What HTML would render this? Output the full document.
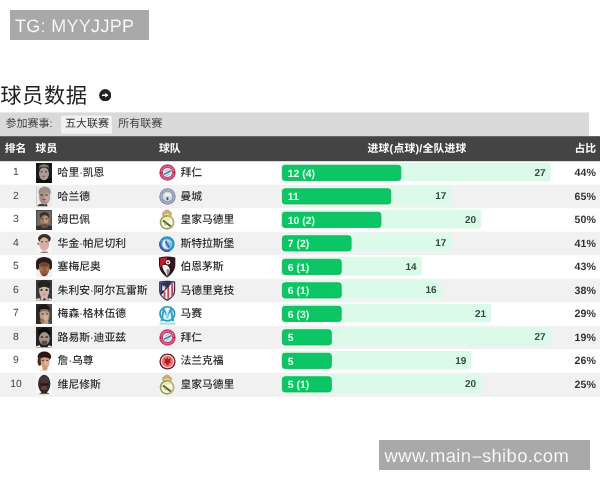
<!DOCTYPE html>
<html lang="zh-CN"><head><meta charset="utf-8"><title>球员数据</title><style>
*{margin:0;padding:0;box-sizing:border-box}
html,body{width:600px;height:480px;overflow:hidden;background:#fff}
body{position:relative;text-rendering:geometricPrecision;font-family:"Liberation Sans","Noto Sans CJK SC",sans-serif;color:#333}
.abs{position:absolute;white-space:nowrap}
.wm{position:absolute;background:#a9a9a9;color:#fff}
.wm span{position:absolute;white-space:nowrap;line-height:1}
.title{left:0.3px;top:81.2px;font-size:21.3px;line-height:30px;color:#1e1e1e;font-weight:400;letter-spacing:0.5px}
.ft{font-size:11px;line-height:14px;color:#444;top:117.4px}
.th{font-size:10.8px;font-weight:700;color:#fff;line-height:14px;top:142.2px}
.rk{left:0.3px;width:31.4px;text-align:center;font-size:10.4px;line-height:14px;color:#444}
.nm{font-size:10.8px;line-height:14px;color:#2b2b2b;font-weight:500}
.av{position:absolute;display:block}
.lg{position:absolute;display:block;overflow:visible}
.gv{font-size:10.4px;font-weight:700;color:#e4fff0;line-height:12px}
.tv{font-size:10px;font-weight:700;color:#2f4a3d;line-height:12px;text-align:right}
.pc{font-size:10.6px;font-weight:700;color:#333;line-height:12px;text-align:right;left:560px;width:35.8px}
</style></head><body>
<div class="wm" style="left:10px;top:10px;width:139px;height:29.5px"><span style="left:5px;top:7.4px;font-size:18px;letter-spacing:0.3px;-webkit-text-stroke:0.15px #a9a9a9">TG: MYYJJPP</span></div>
<div id="tbl" style="position:absolute;left:0;top:60px;width:600px;height:360px;filter:blur(0.4px)"><div style="position:absolute;left:0;top:-60px;width:600px;height:480px">
<div class="abs title">球员数据</div>
<svg class="abs" style="left:98.8px;top:89.1px" width="12.4" height="12.4" viewBox="0 0 12.4 12.4"><circle cx="6.2" cy="6.2" r="6.1" fill="#222"/><path d="M3.1 5.5 H6.3 V3.8 L9.5 6.2 L6.3 8.6 V6.9 H3.1Z" fill="#fff"/></svg>
<svg class="abs" style="left:0;top:0" width="600" height="480" viewBox="0 0 600 480"><rect x="0" y="112.4" width="589" height="23.8" fill="#d9d9d9"/><rect x="61" y="115.5" width="51" height="18.2" rx="2" fill="#f1f1f1"/><rect x="0" y="136.2" width="600" height="25" fill="#444"/><rect x="281.0" y="162.70" width="269.9" height="18.7" rx="2" fill="#dcfaea"/><rect x="282.4" y="165.30" width="118.4" height="15.1" rx="2.6" fill="#0cc564" stroke="#13b25e" stroke-width="0.9"/><rect x="0" y="184.70" width="600" height="23.50" fill="#f1f1f1"/><rect x="281.0" y="186.20" width="170.6" height="18.7" rx="2" fill="#dcfaea"/><rect x="282.4" y="188.80" width="108.4" height="15.1" rx="2.6" fill="#0cc564" stroke="#13b25e" stroke-width="0.9"/><rect x="281.0" y="209.70" width="200.4" height="18.7" rx="2" fill="#dcfaea"/><rect x="282.4" y="212.30" width="98.5" height="15.1" rx="2.6" fill="#0cc564" stroke="#13b25e" stroke-width="0.9"/><rect x="0" y="231.70" width="600" height="23.50" fill="#f1f1f1"/><rect x="281.0" y="233.20" width="170.6" height="18.7" rx="2" fill="#dcfaea"/><rect x="282.4" y="235.80" width="68.7" height="15.1" rx="2.6" fill="#0cc564" stroke="#13b25e" stroke-width="0.9"/><rect x="281.0" y="256.70" width="140.8" height="18.7" rx="2" fill="#dcfaea"/><rect x="282.4" y="259.30" width="58.8" height="15.1" rx="2.6" fill="#0cc564" stroke="#13b25e" stroke-width="0.9"/><rect x="0" y="278.70" width="600" height="23.50" fill="#f1f1f1"/><rect x="281.0" y="280.20" width="160.7" height="18.7" rx="2" fill="#dcfaea"/><rect x="282.4" y="282.80" width="58.8" height="15.1" rx="2.6" fill="#0cc564" stroke="#13b25e" stroke-width="0.9"/><rect x="281.0" y="303.70" width="210.3" height="18.7" rx="2" fill="#dcfaea"/><rect x="282.4" y="306.30" width="58.8" height="15.1" rx="2.6" fill="#0cc564" stroke="#13b25e" stroke-width="0.9"/><rect x="0" y="325.70" width="600" height="23.50" fill="#f1f1f1"/><rect x="281.0" y="327.20" width="269.9" height="18.7" rx="2" fill="#dcfaea"/><rect x="282.4" y="329.80" width="48.9" height="15.1" rx="2.6" fill="#0cc564" stroke="#13b25e" stroke-width="0.9"/><rect x="281.0" y="350.70" width="190.5" height="18.7" rx="2" fill="#dcfaea"/><rect x="282.4" y="353.30" width="48.9" height="15.1" rx="2.6" fill="#0cc564" stroke="#13b25e" stroke-width="0.9"/><rect x="0" y="372.70" width="600" height="24.30" fill="#f1f1f1"/><rect x="281.0" y="374.20" width="200.4" height="18.7" rx="2" fill="#dcfaea"/><rect x="282.4" y="376.80" width="48.9" height="15.1" rx="2.6" fill="#0cc564" stroke="#13b25e" stroke-width="0.9"/></svg>
<div class="abs ft" style="left:5.6px">参加赛事:</div>
<div class="abs ft" style="left:65px;color:#333">五大联赛</div>
<div class="abs ft" style="left:118.3px">所有联赛</div>
<div class="abs th" style="left:4.8px">排名</div>
<div class="abs th" style="left:35.6px">球员</div>
<div class="abs th" style="left:159px">球队</div>
<div class="abs th" style="left:282px;width:270px;text-align:center;letter-spacing:0.2px">进球(点球)/全队进球</div>
<div class="abs th" style="left:560px;width:36px;text-align:right">占比</div>
<div class="abs rk" style="top:166.00px">1</div>
<div class="abs" style="left:36px;top:162.80px;width:16px;height:20.4px"><svg class="av" width="16" height="20.4" viewBox="0 0 16 20" preserveAspectRatio="none"><defs><filter id="b1" x="-30%" y="-30%" width="160%" height="160%"><feGaussianBlur stdDeviation="0.55"/></filter><clipPath id="c1"><rect width="16" height="20"/></clipPath></defs><rect width="16" height="20" fill="#1b1a19"/><g clip-path="url(#c1)"><g filter="url(#b1)"><path d="M0 20 L2 17 Q8 15 14 17 L16 20Z" fill="#0e0d0c"/><ellipse cx="8" cy="4.4" rx="5.0" ry="3.2" fill="#85817a"/><ellipse cx="8" cy="5.6" rx="5.4" ry="2.2" fill="#3b342e"/><ellipse cx="8" cy="10.6" rx="5.0" ry="6.2" fill="#a99b99"/><ellipse cx="5.7" cy="8.6" rx="1.1" ry="0.7" fill="#4b3f40"/><ellipse cx="10" cy="8.6" rx="1.1" ry="0.7" fill="#4b3f40"/><ellipse cx="7.6" cy="13.2" rx="1.6" ry="0.8" fill="#7a6a68"/><path d="M3 17.4 Q8 20.4 13 17.4 L14 20 H2Z" fill="#1a1716"/></g></g></svg></div>
<div class="abs nm" style="left:57.6px;top:166.00px">哈里·凯恩</div>
<div class="abs" style="left:158.9px;top:164.30px"><svg class="lg" width="17" height="17" viewBox="0 0 17 17"><circle cx="8.5" cy="8.5" r="8.2" fill="#c63f66"/><circle cx="8.5" cy="8.5" r="6.2" fill="none" stroke="#dd8ea8" stroke-width="1.3" stroke-dasharray="1.1 1"/><circle cx="1.9" cy="8.6" r="0.9" fill="#9c2350"/><circle cx="15.1" cy="8.6" r="0.9" fill="#9c2350"/><circle cx="8.5" cy="8.5" r="4.6" fill="#f4e9ee"/><path d="M4.4 9.7 L11.7 6.1 L12.6 7.5 L5.3 11.1Z" fill="#3787a8"/><path d="M5.4 6.9 L9.8 4.8 L10.3 5.6 L5.9 7.8Z" fill="#8fbdd2"/><path d="M6.7 11.5 L11.3 9.3 L11.7 10.1 L7.1 12.3Z" fill="#8fbdd2"/></svg></div>
<div class="abs nm" style="left:180.4px;top:166.00px">拜仁</div>
<div class="abs gv" style="left:287.8px;top:168.80px">12 (4)</div>
<div class="abs tv" style="left:505.7px;width:40px;top:167.90px">27</div>
<div class="abs pc" style="top:167.10px">44%</div>
<div class="abs rk" style="top:189.50px">2</div>
<div class="abs" style="left:36px;top:186.30px;width:16px;height:20.4px"><svg class="av" width="16" height="20.4" viewBox="0 0 16 20" preserveAspectRatio="none"><defs><filter id="b2" x="-30%" y="-30%" width="160%" height="160%"><feGaussianBlur stdDeviation="0.55"/></filter><clipPath id="c2"><rect width="16" height="20"/></clipPath></defs><rect width="16" height="20" fill="#e9e9e9"/><g clip-path="url(#c2)"><g filter="url(#b2)"><rect x="0" y="0" width="0.8" height="20" fill="#c9c9c9"/><ellipse cx="8.6" cy="6" rx="6.2" ry="5.4" fill="#98918a"/><ellipse cx="8.6" cy="10.8" rx="5.5" ry="7.2" fill="#aa8e86"/><ellipse cx="10.8" cy="11" rx="2.6" ry="4.4" fill="#cdb3aa" opacity="0.7"/><ellipse cx="5.6" cy="8.8" rx="1.6" ry="0.8" fill="#5c4444"/><ellipse cx="10.4" cy="8.8" rx="1.6" ry="0.8" fill="#5c4444"/><ellipse cx="8" cy="13.2" rx="2" ry="0.8" fill="#7c5a54"/><path d="M1.4 20 Q2 17.2 6 17.4 Q9.6 18.6 11 17.6 L11.6 20Z" fill="#3d3d3f"/></g></g></svg></div>
<div class="abs nm" style="left:57.6px;top:189.50px">哈兰德</div>
<div class="abs" style="left:158.9px;top:188.10px"><svg class="lg" width="17" height="17" viewBox="0 0 17 17"><circle cx="8.5" cy="8.5" r="8.2" fill="#7f86a2"/><circle cx="8.5" cy="8.5" r="7.2" fill="#b4b9cd"/><circle cx="8.5" cy="8.5" r="6" fill="#858ba7"/><circle cx="8.5" cy="8.5" r="4.9" fill="#d6dae6"/><path d="M5.6 5.4 H11.4 V9.4 Q11.4 11.8 8.5 12.9 Q5.6 11.8 5.6 9.4Z" fill="#d3e2d6"/><path d="M5.6 5.4 H11.4 V7.8 H5.6Z" fill="#eef3ef"/><path d="M7.5 9.2 h1.9 v2.7 q-0.95 0.8 -1.9 0z" fill="#43544a"/></svg></div>
<div class="abs nm" style="left:180.4px;top:189.50px">曼城</div>
<div class="abs gv" style="left:287.8px;top:192.30px">11</div>
<div class="abs tv" style="left:406.4px;width:40px;top:191.40px">17</div>
<div class="abs pc" style="top:190.60px">65%</div>
<div class="abs rk" style="top:213.00px">3</div>
<div class="abs" style="left:36px;top:209.80px;width:16px;height:20.4px"><svg class="av" width="16" height="20.4" viewBox="0 0 16 20" preserveAspectRatio="none"><defs><filter id="b3" x="-30%" y="-30%" width="160%" height="160%"><feGaussianBlur stdDeviation="0.55"/></filter><clipPath id="c3"><rect width="16" height="20"/></clipPath></defs><rect width="16" height="20" fill="#6c6b69"/><g clip-path="url(#c3)"><g filter="url(#b3)"><rect x="0" y="0" width="16" height="1" fill="#4a4947"/><rect x="0" y="0" width="1" height="20" fill="#4a4947"/><rect x="15" y="0" width="1" height="20" fill="#555"/><path d="M0 20 V16 Q8 13 16 16 V20Z" fill="#3a2f2c"/><ellipse cx="8.4" cy="5.6" rx="4.9" ry="3.6" fill="#3a332e"/><ellipse cx="8.6" cy="10.6" rx="4.4" ry="5.8" fill="#a07c5e"/><ellipse cx="10" cy="9.4" rx="2.4" ry="3.6" fill="#c8a07a" opacity="0.8"/><ellipse cx="6.4" cy="8.6" rx="1.2" ry="0.7" fill="#5a4030"/><ellipse cx="10.6" cy="8.6" rx="1.2" ry="0.7" fill="#5a4030"/><ellipse cx="8.4" cy="15.6" rx="3.6" ry="2" fill="#6b5047"/></g></g></svg></div>
<div class="abs nm" style="left:57.6px;top:213.00px">姆巴佩</div>
<div class="abs" style="left:159px;top:209.20px"><svg class="lg" width="16" height="21" viewBox="0 0 16 21"><path d="M3.6 7 Q2.2 3.4 4.8 2.6 Q6 0.6 8 0.6 Q10 0.6 11.2 2.6 Q13.8 3.4 12.4 7Z" fill="#c9ab76"/><path d="M5 5.4 Q8 3.6 11 5.4 L10.8 7.2 L5.2 7.2Z" fill="#ead99c"/><circle cx="8" cy="13.4" r="7.3" fill="#93a04e"/><path d="M8 6.1 A7.3 7.3 0 0 1 15.3 13.4 A7.3 7.3 0 0 1 12 19.5 L10.8 17.8 A5.4 5.4 0 0 0 8 8Z" fill="#c4ae6e"/><circle cx="8" cy="13.4" r="5.7" fill="#f6f4e8"/><path d="M4.6 9.4 Q8 7.6 11.4 9.4 L10.6 11 H5.4Z" fill="#f0e8a6"/><path d="M3.2 12.2 L4.8 10.8 L12.6 16.8 L11.2 18.2Z" fill="#55702f"/><path d="M5 14 l1.4 -0.6 l1 2.6 l-1.2 0.6z" fill="#b9b078"/></svg></div>
<div class="abs nm" style="left:180.4px;top:213.00px">皇家马德里</div>
<div class="abs gv" style="left:287.8px;top:215.80px">10 (2)</div>
<div class="abs tv" style="left:436.2px;width:40px;top:214.90px">20</div>
<div class="abs pc" style="top:214.10px">50%</div>
<div class="abs rk" style="top:236.50px">4</div>
<div class="abs" style="left:36px;top:233.30px;width:16px;height:20.4px"><svg class="av" width="16" height="20.4" viewBox="0 0 16 20" preserveAspectRatio="none"><defs><filter id="b4" x="-30%" y="-30%" width="160%" height="160%"><feGaussianBlur stdDeviation="0.55"/></filter><clipPath id="c4"><rect width="16" height="20"/></clipPath></defs><rect width="16" height="20" fill="#f6f6f6"/><g clip-path="url(#c4)"><g filter="url(#b4)"><ellipse cx="8.4" cy="5.6" rx="6.4" ry="4.6" fill="#392e27"/><ellipse cx="8.2" cy="10.8" rx="5.0" ry="6.6" fill="#d6aea4"/><ellipse cx="6" cy="8.6" rx="1.3" ry="0.8" fill="#8a4a4a"/><ellipse cx="10.6" cy="8.6" rx="1.2" ry="0.7" fill="#7a5a50"/><ellipse cx="2.2" cy="10.6" rx="0.9" ry="1.4" fill="#8d7a74"/><ellipse cx="8.4" cy="18.9" rx="4" ry="0.7" fill="#8a7a70"/></g></g></svg></div>
<div class="abs nm" style="left:57.6px;top:236.50px">华金·帕尼切利</div>
<div class="abs" style="left:158.9px;top:235.50px"><svg class="lg" width="16" height="16" viewBox="0 0 16 16"><circle cx="8" cy="8" r="7.7" fill="#2d97be"/><path d="M1.2 6 A7 7 0 0 0 11 14.4" fill="none" stroke="#5a4690" stroke-width="1.4"/><circle cx="8" cy="8" r="5.4" fill="#74c4e8"/><path d="M4.6 4.4 Q2.6 8.2 4.6 11 Q6.4 13.4 9.6 12.8 Q6.2 11.2 6 8 Q5.8 6 6.8 3.8Z" fill="#eef4fb"/><path d="M5.8 5.6 L7.2 4.8 L11 11 L9.6 12Z" fill="#6a55a4"/><path d="M7.8 3.8 Q11.6 3.6 12.6 7.4 Q10.8 5.6 8.6 5.6Z" fill="#b5e3f5"/></svg></div>
<div class="abs nm" style="left:180.4px;top:236.50px">斯特拉斯堡</div>
<div class="abs gv" style="left:287.8px;top:239.30px">7 (2)</div>
<div class="abs tv" style="left:406.4px;width:40px;top:238.40px">17</div>
<div class="abs pc" style="top:237.60px">41%</div>
<div class="abs rk" style="top:260.00px">5</div>
<div class="abs" style="left:36px;top:256.80px;width:16px;height:20.4px"><svg class="av" width="16" height="20.4" viewBox="0 0 16 20" preserveAspectRatio="none"><defs><filter id="b5" x="-30%" y="-30%" width="160%" height="160%"><feGaussianBlur stdDeviation="0.55"/></filter><clipPath id="c5"><rect width="16" height="20"/></clipPath></defs><rect width="16" height="20" fill="#f1f1f1"/><g clip-path="url(#c5)"><g filter="url(#b5)"><ellipse cx="8" cy="5.4" rx="8" ry="5.4" fill="#2a1a14"/><ellipse cx="1.6" cy="8.6" rx="1.6" ry="4" fill="#2a1a14"/><ellipse cx="14.4" cy="8.6" rx="1.6" ry="4" fill="#2a1a14"/><path d="M3 7 Q8 3.4 13.4 7 Q14 13 11.6 17 Q8 20.4 5 17 Q2.6 13 3 7Z" fill="#8f5e42"/><ellipse cx="5.4" cy="12" rx="1.4" ry="2" fill="#b07c5c" opacity="0.8"/><ellipse cx="11.4" cy="12" rx="1.4" ry="2" fill="#b07c5c" opacity="0.8"/><ellipse cx="8.2" cy="7.6" rx="4" ry="1.6" fill="#6a3c28" opacity="0.8"/><ellipse cx="8.2" cy="17.6" rx="2.6" ry="1.4" fill="#7a4a34"/></g></g></svg></div>
<div class="abs nm" style="left:57.6px;top:260.00px">塞梅尼奥</div>
<div class="abs" style="left:158.2px;top:256.25px"><svg class="lg" width="18.3" height="21.9" viewBox="0 0 18 22"><path d="M0.8 1.4 Q9 -0.4 17.2 1.4 V9.4 Q16.6 16.8 9 21.6 Q1.4 16.8 0.8 9.4Z" fill="#23161a"/><path d="M1.9 2.3 Q5.6 1.4 9.2 1.5 Q8.8 5.6 5.4 8.4 Q3.2 10 2.2 11.6 Q1.8 10 1.9 9.4Z" fill="#b8212f"/><path d="M9.2 1.5 Q13 1.5 16.1 2.3 V9.4 Q15.8 13 13.6 16 Q12.6 10 9 8.4 Q10 5 9.2 1.5Z" fill="#3d1220"/><path d="M4.2 9.4 Q7.4 7.8 10.2 10.2 Q12.4 12.6 11.6 15.4 Q10.6 18.4 8.8 20 Q7.4 17.4 5.8 15.2 Q3.8 12.4 4.2 9.4Z" fill="#f5efec"/><path d="M8.6 13.2 Q11.4 12.4 11.8 15 Q10.8 18.2 9 19.8 Q8 16.4 8.6 13.2Z" fill="#8b898c"/><circle cx="9.9" cy="6.3" r="2.2" fill="#f7f1ee"/><circle cx="9.9" cy="6.4" r="0.9" fill="#2a1016"/></svg></div>
<div class="abs nm" style="left:180.4px;top:260.00px">伯恩茅斯</div>
<div class="abs gv" style="left:287.8px;top:262.80px">6 (1)</div>
<div class="abs tv" style="left:376.6px;width:40px;top:261.90px">14</div>
<div class="abs pc" style="top:261.10px">43%</div>
<div class="abs rk" style="top:283.50px">6</div>
<div class="abs" style="left:36px;top:280.30px;width:16px;height:20.4px"><svg class="av" width="16" height="20.4" viewBox="0 0 16 20" preserveAspectRatio="none"><defs><filter id="b6" x="-30%" y="-30%" width="160%" height="160%"><feGaussianBlur stdDeviation="0.55"/></filter><clipPath id="c6"><rect width="16" height="20"/></clipPath></defs><rect width="16" height="20" fill="#3a3937"/><g clip-path="url(#c6)"><g filter="url(#b6)"><ellipse cx="8" cy="4.4" rx="6.6" ry="4.2" fill="#27211d"/><path d="M3.2 8.4 Q8.2 4.6 13.2 8.4 Q13.6 13.6 11.6 16.6 L12 20 H4.6 L4.8 16.6 Q2.8 13.6 3.2 8.4Z" fill="#cfb6ad"/><ellipse cx="5.5" cy="9.8" rx="1.2" ry="0.9" fill="#3a201c"/><ellipse cx="10.6" cy="9.8" rx="1.2" ry="0.9" fill="#3a201c"/><ellipse cx="8.2" cy="14.2" rx="1.8" ry="0.8" fill="#b08c84"/><ellipse cx="8.4" cy="19" rx="1" ry="1.2" fill="#2c2420"/><path d="M0 20 V18.6 L3.6 17.6 L4 20Z" fill="#dcdcdc"/><path d="M16 20 V18.6 L12.6 17.6 L12.2 20Z" fill="#dcdcdc"/></g></g></svg></div>
<div class="abs nm" style="left:57.6px;top:283.50px">朱利安·阿尔瓦雷斯</div>
<div class="abs" style="left:158.2px;top:280.05px"><svg class="lg" width="18.3" height="21.5" viewBox="0 0 18 22"><path d="M0.8 1.6 Q9 -0.2 17.2 1.6 V11 Q17.2 17.4 9 21.4 Q0.8 17.4 0.8 11Z" fill="#2c2a55"/><path d="M2 2.7 Q9 1.3 16 2.7 V11 Q16 16.4 9 20 Q2 16.4 2 11Z" fill="#f6ecec"/><g fill="#bf4a4e"><path d="M9.2 5 h1.9 v13.8 l-1.9 1z"/><path d="M13.2 3.4 h1.9 v10.8 q-0.6 1.6 -1.9 2.8z"/><path d="M5.4 12.4 h1.8 v6.4 l-1.8 -1.1z"/><path d="M2 13.2 h1.5 v3 q-1 -1.4 -1.5 -3z"/></g><path d="M2 2.7 Q8 1.5 14.4 2.3 L4 14.2 L2 14.2Z" fill="#2f2d5c"/><path d="M4 4.4 l0.9 2.6 l1.5 -2.2 l-0.1 2.8 l1.9 -1.6 l-1.5 2.8 l-0.6 2 h-2.2z" fill="#e6e6f1"/></svg></div>
<div class="abs nm" style="left:180.4px;top:283.50px">马德里竞技</div>
<div class="abs gv" style="left:287.8px;top:286.30px">6 (1)</div>
<div class="abs tv" style="left:396.5px;width:40px;top:285.40px">16</div>
<div class="abs pc" style="top:284.60px">38%</div>
<div class="abs rk" style="top:307.00px">7</div>
<div class="abs" style="left:36px;top:303.80px;width:16px;height:20.4px"><svg class="av" width="16" height="20.4" viewBox="0 0 16 20" preserveAspectRatio="none"><defs><filter id="b7" x="-30%" y="-30%" width="160%" height="160%"><feGaussianBlur stdDeviation="0.55"/></filter><clipPath id="c7"><rect width="16" height="20"/></clipPath></defs><rect width="16" height="20" fill="#2b2725"/><g clip-path="url(#c7)"><g filter="url(#b7)"><rect x="11" y="0" width="5" height="20" fill="#4e4842"/><ellipse cx="8" cy="5" rx="6" ry="4.2" fill="#1d1917"/><ellipse cx="8.4" cy="6.6" rx="4.6" ry="1.6" fill="#8d7a68" opacity="0.9"/><path d="M3.6 8.4 Q8.6 5 13.4 8.4 Q13.8 13.6 12.2 16.6 L12.8 20 H5.4 L5.4 16.6 Q3.2 13 3.6 8.4Z" fill="#bd9d84"/><ellipse cx="6.4" cy="9.8" rx="1.3" ry="0.7" fill="#6a4a38"/><ellipse cx="11" cy="9.8" rx="1.3" ry="0.7" fill="#6a4a38"/><ellipse cx="9.6" cy="13" rx="2.2" ry="3" fill="#d8b8a0" opacity="0.8"/><ellipse cx="6" cy="16.6" rx="2.4" ry="2.4" fill="#8a6e5c" opacity="0.8"/></g></g></svg></div>
<div class="abs nm" style="left:57.6px;top:307.00px">梅森·格林伍德</div>
<div class="abs" style="left:157.5px;top:303.60px"><svg class="lg" width="18.6" height="21.2" preserveAspectRatio="none" viewBox="0 0 17 20"><ellipse cx="8.5" cy="9.3" rx="6.7" ry="6.7" fill="#dff5f9"/><ellipse cx="8.5" cy="9.3" rx="6.7" ry="6.7" fill="none" stroke="#2f9bbb" stroke-width="1.6"/><path d="M2.2 16.2 L4.9 1.8 L8.5 10.2 L12.1 1.8 L14.8 16.2 L12.7 16.2 L11.3 7.4 L8.5 14.2 L5.7 7.4 L4.3 16.2Z" fill="#35a4c5"/><path d="M7.2 7.2 L8.5 10.2 L9.8 7.2 L9.6 13 L8.5 14.2 L7.4 13Z" fill="#7fdcf0"/><rect x="1.4" y="17.5" width="14.6" height="2.2" rx="0.4" fill="#b3dede"/></svg></div>
<div class="abs nm" style="left:180.4px;top:307.00px">马赛</div>
<div class="abs gv" style="left:287.8px;top:309.80px">6 (3)</div>
<div class="abs tv" style="left:446.1px;width:40px;top:308.90px">21</div>
<div class="abs pc" style="top:308.10px">29%</div>
<div class="abs rk" style="top:330.50px">8</div>
<div class="abs" style="left:36px;top:327.30px;width:16px;height:20.4px"><svg class="av" width="16" height="20.4" viewBox="0 0 16 20" preserveAspectRatio="none"><defs><filter id="b8" x="-30%" y="-30%" width="160%" height="160%"><feGaussianBlur stdDeviation="0.55"/></filter><clipPath id="c8"><rect width="16" height="20"/></clipPath></defs><rect width="16" height="20" fill="#262121"/><g clip-path="url(#c8)"><g filter="url(#b8)"><ellipse cx="8.2" cy="5.6" rx="6.2" ry="4.8" fill="#0f0d0d"/><ellipse cx="8.4" cy="11.4" rx="5.4" ry="6.4" fill="#a19088"/><ellipse cx="6" cy="9.9" rx="1.5" ry="0.8" fill="#3a2a2a"/><ellipse cx="10.8" cy="9.9" rx="1.5" ry="0.8" fill="#3a2a2a"/><ellipse cx="8.4" cy="15.4" rx="3" ry="2.2" fill="#5e4a46"/><path d="M0 20 V19 L3.6 18 L5 20Z" fill="#f0f0f0"/><path d="M16 20 V19 L12.6 18 L11.4 20Z" fill="#f0f0f0"/></g></g></svg></div>
<div class="abs nm" style="left:57.6px;top:330.50px">路易斯·迪亚兹</div>
<div class="abs" style="left:158.9px;top:328.80px"><svg class="lg" width="17" height="17" viewBox="0 0 17 17"><circle cx="8.5" cy="8.5" r="8.2" fill="#c63f66"/><circle cx="8.5" cy="8.5" r="6.2" fill="none" stroke="#dd8ea8" stroke-width="1.3" stroke-dasharray="1.1 1"/><circle cx="1.9" cy="8.6" r="0.9" fill="#9c2350"/><circle cx="15.1" cy="8.6" r="0.9" fill="#9c2350"/><circle cx="8.5" cy="8.5" r="4.6" fill="#f4e9ee"/><path d="M4.4 9.7 L11.7 6.1 L12.6 7.5 L5.3 11.1Z" fill="#3787a8"/><path d="M5.4 6.9 L9.8 4.8 L10.3 5.6 L5.9 7.8Z" fill="#8fbdd2"/><path d="M6.7 11.5 L11.3 9.3 L11.7 10.1 L7.1 12.3Z" fill="#8fbdd2"/></svg></div>
<div class="abs nm" style="left:180.4px;top:330.50px">拜仁</div>
<div class="abs gv" style="left:287.8px;top:333.30px">5</div>
<div class="abs tv" style="left:505.7px;width:40px;top:332.40px">27</div>
<div class="abs pc" style="top:331.60px">19%</div>
<div class="abs rk" style="top:354.00px">9</div>
<div class="abs" style="left:36px;top:350.80px;width:16px;height:20.4px"><svg class="av" width="16" height="20.4" viewBox="0 0 16 20" preserveAspectRatio="none"><defs><filter id="b9" x="-30%" y="-30%" width="160%" height="160%"><feGaussianBlur stdDeviation="0.55"/></filter><clipPath id="c9"><rect width="16" height="20"/></clipPath></defs><rect width="16" height="20" fill="#fbfbfb"/><g clip-path="url(#c9)"><g filter="url(#b9)"><ellipse cx="8.4" cy="5.4" rx="6.8" ry="5" fill="#2b1915"/><ellipse cx="3.6" cy="10" rx="2" ry="4.4" fill="#4a2c20"/><path d="M4.6 7.4 Q9 4.6 13.6 7.6 Q14 13 12 16 Q9 18.6 6.4 16.4 Q4.2 12 4.6 7.4Z" fill="#d09c7c"/><ellipse cx="10.6" cy="11.6" rx="2.2" ry="3.2" fill="#e4b898" opacity="0.8"/><ellipse cx="7" cy="9.4" rx="1.2" ry="0.7" fill="#6a4030"/><ellipse cx="11.2" cy="9.4" rx="1.2" ry="0.7" fill="#6a4030"/><ellipse cx="9" cy="17.4" rx="2.6" ry="1.6" fill="#c99a78"/><path d="M3 20 Q4 18.2 8 18.6 Q13 18.2 14 20Z" fill="#e4dccb"/></g></g></svg></div>
<div class="abs nm" style="left:57.6px;top:354.00px">詹·乌尊</div>
<div class="abs" style="left:158.9px;top:352.60px"><svg class="lg" width="17" height="17" viewBox="0 0 17 17"><circle cx="8.5" cy="8.5" r="8.1" fill="#5e222c"/><circle cx="8.5" cy="8.5" r="6.8" fill="#f8d2d0"/><circle cx="8.5" cy="8.5" r="5.7" fill="#ee7474"/><path d="M8.5 3.8 L9.3 6.2 L12.2 5.2 L10.8 8 L12.2 9.6 L9.8 10.2 L9.3 12.8 L8.5 11.8 L7.7 12.8 L7.2 10.2 L4.8 9.6 L6.2 8 L4.8 5.2 L7.7 6.2Z" fill="#b31a27"/></svg></div>
<div class="abs nm" style="left:180.4px;top:354.00px">法兰克福</div>
<div class="abs gv" style="left:287.8px;top:356.80px">5</div>
<div class="abs tv" style="left:426.3px;width:40px;top:355.90px">19</div>
<div class="abs pc" style="top:355.10px">26%</div>
<div class="abs rk" style="top:377.50px">10</div>
<div class="abs" style="left:36px;top:374.30px;width:16px;height:20.4px"><svg class="av" width="16" height="20.4" viewBox="0 0 16 20" preserveAspectRatio="none"><defs><filter id="b10" x="-30%" y="-30%" width="160%" height="160%"><feGaussianBlur stdDeviation="0.55"/></filter><clipPath id="c10"><rect width="16" height="20"/></clipPath></defs><rect width="16" height="20" fill="#f7f7f7"/><g clip-path="url(#c10)"><g filter="url(#b10)"><ellipse cx="8.2" cy="9.6" rx="6.2" ry="8.8" fill="#38272a"/><ellipse cx="8.2" cy="5.8" rx="5" ry="3.6" fill="#4a3a3c" opacity="0.8"/><ellipse cx="8.2" cy="13.6" rx="3.0" ry="2.0" fill="#6e423b" opacity="0.9"/><ellipse cx="8.2" cy="10.2" rx="4" ry="0.8" fill="#20161a"/><ellipse cx="8.2" cy="17.4" rx="3.4" ry="1.6" fill="#3a2222"/><rect x="3.6" y="19" width="9.4" height="0.8" fill="#1a1414"/></g></g></svg></div>
<div class="abs nm" style="left:57.6px;top:377.50px">维尼修斯</div>
<div class="abs" style="left:159px;top:373.70px"><svg class="lg" width="16" height="21" viewBox="0 0 16 21"><path d="M3.6 7 Q2.2 3.4 4.8 2.6 Q6 0.6 8 0.6 Q10 0.6 11.2 2.6 Q13.8 3.4 12.4 7Z" fill="#c9ab76"/><path d="M5 5.4 Q8 3.6 11 5.4 L10.8 7.2 L5.2 7.2Z" fill="#ead99c"/><circle cx="8" cy="13.4" r="7.3" fill="#93a04e"/><path d="M8 6.1 A7.3 7.3 0 0 1 15.3 13.4 A7.3 7.3 0 0 1 12 19.5 L10.8 17.8 A5.4 5.4 0 0 0 8 8Z" fill="#c4ae6e"/><circle cx="8" cy="13.4" r="5.7" fill="#f6f4e8"/><path d="M4.6 9.4 Q8 7.6 11.4 9.4 L10.6 11 H5.4Z" fill="#f0e8a6"/><path d="M3.2 12.2 L4.8 10.8 L12.6 16.8 L11.2 18.2Z" fill="#55702f"/><path d="M5 14 l1.4 -0.6 l1 2.6 l-1.2 0.6z" fill="#b9b078"/></svg></div>
<div class="abs nm" style="left:180.4px;top:377.50px">皇家马德里</div>
<div class="abs gv" style="left:287.8px;top:380.30px">5 (1)</div>
<div class="abs tv" style="left:436.2px;width:40px;top:379.40px">20</div>
<div class="abs pc" style="top:378.60px">25%</div>
</div></div>
<div class="wm" style="left:379px;top:440px;width:211px;height:29.6px"><span style="left:5.6px;top:6.6px;font-size:18.4px;letter-spacing:0.38px;-webkit-text-stroke:0.15px #a9a9a9">www.main<span style="position:static;display:inline-block;transform:scaleX(2.0);transform-origin:50% 50%;margin:0 1.2px 0 2.8px">-</span>shibo.com</span></div>
</body></html>
